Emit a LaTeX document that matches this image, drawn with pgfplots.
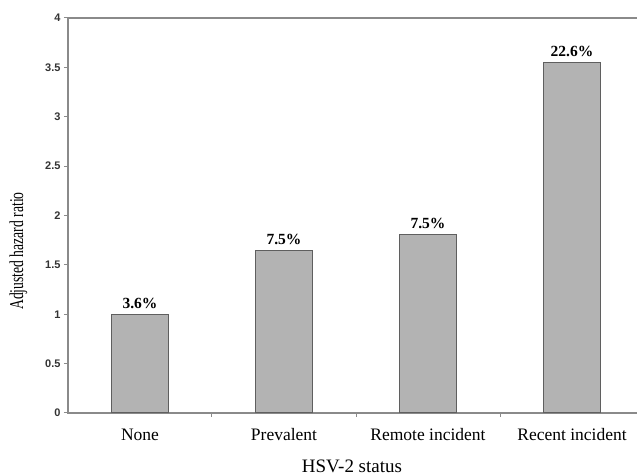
\documentclass[border=0pt]{standalone}
\usepackage{pgfplots}
\pgfplotsset{compat=1.18}
\usepackage{fontspec}
\setmainfont{Liberation Serif}
\newfontfamily\sansfont{Liberation Sans}
\definecolor{barfill}{HTML}{B3B3B3}
\definecolor{bardraw}{HTML}{5F5F5F}
\definecolor{axisgray}{HTML}{8A8A8A}
\begin{document}
\begin{tikzpicture}
\begin{axis}[
  at={(0,0)}, anchor=south west,
  scale only axis,
  width=576pt, height=395pt,
  xmin=-0.5, xmax=3.5, ymin=0, ymax=4,
  axis line style={axisgray, line width=1.1pt},
  tick style={axisgray, line width=1pt},
  tick align=outside,
  major tick length=4pt,
  xtick pos=bottom, ytick pos=left,
  xtick={0.5,1.5,2.5},
  xticklabels={},
  extra x ticks={0,1,2,3},
  extra x tick labels={None,Prevalent,Remote incident,Recent incident},
  extra x tick style={major tick length=0pt, tick label style={anchor=base, yshift=-28pt}},
  xticklabel style={font=\fontsize{17.5}{20}\selectfont},
  ytick={0,0.5,...,4},
  /pgf/number format/assume math mode=true,
  yticklabel style={font=\sansfont\bfseries\fontsize{11}{12}\selectfont, text=black!80},
  xlabel={HSV-2 status},
  every axis x label/.style={at={(axis description cs:0.493,-0.150)}, anchor=base, font=\fontsize{19}{22}\selectfont},
  ylabel={\scalebox{0.78}[1.12]{\fontsize{17.5}{20}\selectfont Adjusted hazard ratio}},
  every axis y label/.style={at={(axis description cs:-0.0859,0.41)}, anchor=center, rotate=90},
  ybar, bar width=0.4,
  point meta=explicit symbolic,
  nodes near coords,
  every node near coord/.append style={anchor=base, yshift=5.5pt, font=\bfseries\fontsize{15.5}{18}\selectfont, text=black},
]
\addplot[fill=barfill, draw=bardraw, line width=1.1pt] coordinates {
  (0,1.00) [3.6\%]
  (1,1.65) [7.5\%]
  (2,1.81) [7.5\%]
  (3,3.55) [22.6\%]
};
\end{axis}
\pgfresetboundingbox
\useasboundingbox (-68pt,-63pt) rectangle (569pt,413pt);
\end{tikzpicture}
\end{document}
